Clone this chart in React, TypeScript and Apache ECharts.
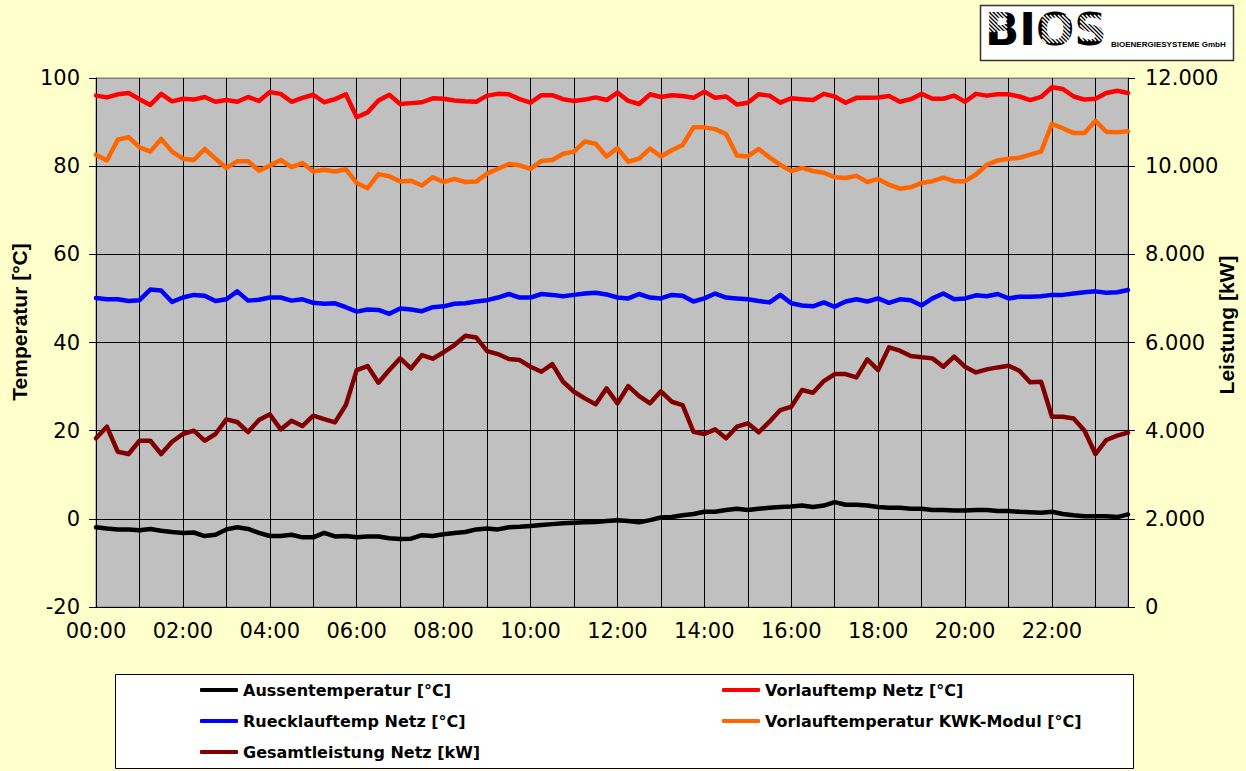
import React, { useEffect, useRef } from "react";
import * as echarts from "echarts";

// ---- Data (15-minute values, 00:00 .. 23:45) ----
const times: string[] = [];
for (let i = 0; i < 96; i++) {
  const h = Math.floor(i / 4);
  const m = (i % 4) * 15;
  times.push(`${String(h).padStart(2, "0")}:${String(m).padStart(2, "0")}`);
}

const aussentemperatur = [
  -1.9, -2.2, -2.4, -2.4, -2.6, -2.3, -2.7, -3.0, -3.2, -3.1, -3.9, -3.6, -2.4, -1.9, -2.3, -3.2,
  -3.9, -3.9, -3.6, -4.2, -4.2, -3.2, -4.0, -3.9, -4.2, -4.0, -4.0, -4.4, -4.6, -4.5, -3.7, -3.9,
  -3.5, -3.2, -3.0, -2.4, -2.2, -2.4, -1.9, -1.8, -1.6, -1.4, -1.2, -1.0, -0.9, -0.8, -0.7, -0.5,
  -0.3, -0.5, -0.8, -0.3, 0.3, 0.4, 0.8, 1.1, 1.6, 1.6, 2.0, 2.3, 2.0, 2.3, 2.5, 2.7,
  2.8, 3.0, 2.7, 3.0, 3.8, 3.2, 3.2, 3.0, 2.7, 2.5, 2.5, 2.3, 2.3, 2.0, 2.0, 1.9,
  1.9, 2.0, 2.0, 1.8, 1.8, 1.6, 1.5, 1.4, 1.6, 1.1, 0.8, 0.6, 0.6, 0.6, 0.4, 1.0,
];

const vorlauftempNetz = [
  96.0, 95.6, 96.3, 96.6, 95.2, 93.9, 96.4, 94.7, 95.3, 95.1, 95.7, 94.6, 95.0, 94.6, 95.7, 94.8,
  96.8, 96.4, 94.6, 95.5, 96.2, 94.5, 95.2, 96.3, 91.1, 92.2, 94.9, 96.2, 94.1, 94.3, 94.5, 95.4,
  95.3, 94.9, 94.7, 94.6, 96.0, 96.4, 96.3, 95.2, 94.4, 96.1, 96.1, 95.2, 94.8, 95.1, 95.6, 95.0,
  96.7, 94.8, 94.1, 96.3, 95.7, 96.1, 95.9, 95.5, 96.9, 95.5, 95.8, 94.0, 94.4, 96.3, 96.0, 94.4,
  95.4, 95.2, 95.0, 96.4, 95.8, 94.4, 95.5, 95.5, 95.6, 95.9, 94.6, 95.2, 96.4, 95.3, 95.3, 96.0,
  94.6, 96.4, 96.0, 96.3, 96.3, 95.8, 95.0, 95.7, 97.9, 97.5, 95.8, 95.1, 95.3, 96.6, 97.1, 96.6,
];

const ruecklauftempNetz = [
  50.1, 49.8, 49.8, 49.4, 49.6, 52.0, 51.8, 49.2, 50.2, 50.8, 50.6, 49.4, 49.8, 51.6, 49.5, 49.7,
  50.2, 50.2, 49.5, 49.8, 49.0, 48.8, 48.9, 48.0, 47.0, 47.5, 47.4, 46.5, 47.7, 47.5, 47.1, 48.0,
  48.2, 48.8, 48.9, 49.3, 49.6, 50.2, 51.0, 50.2, 50.2, 51.0, 50.8, 50.5, 50.8, 51.1, 51.3, 50.9,
  50.2, 50.0, 51.0, 50.2, 50.0, 50.8, 50.6, 49.3, 50.0, 51.1, 50.2, 50.0, 49.8, 49.4, 49.1, 50.8,
  48.9, 48.4, 48.2, 49.1, 48.1, 49.3, 49.8, 49.3, 50.0, 49.0, 49.8, 49.6, 48.4, 50.0, 51.1, 49.8,
  50.0, 50.7, 50.5, 51.0, 50.0, 50.4, 50.4, 50.5, 50.8, 50.8, 51.1, 51.4, 51.6, 51.3, 51.4, 51.9,
];

const vorlauftempKWK = [
  82.6, 81.3, 86.0, 86.6, 84.3, 83.3, 86.2, 83.3, 81.7, 81.4, 83.9, 81.7, 79.6, 81.1, 81.1, 79.0,
  80.1, 81.4, 79.8, 80.7, 78.8, 79.2, 78.8, 79.3, 76.2, 75.0, 78.2, 77.7, 76.5, 76.7, 75.6, 77.5,
  76.4, 77.1, 76.4, 76.5, 78.3, 79.4, 80.5, 80.2, 79.4, 81.2, 81.4, 82.8, 83.3, 85.6, 85.1, 82.2,
  84.1, 81.0, 81.7, 84.0, 82.2, 83.6, 84.8, 88.8, 88.8, 88.4, 87.3, 82.4, 82.2, 83.9, 82.0, 80.3,
  78.9, 79.6, 78.9, 78.5, 77.5, 77.3, 77.8, 76.4, 77.1, 75.8, 74.9, 75.2, 76.2, 76.6, 77.4, 76.6,
  76.6, 78.1, 80.3, 81.3, 81.7, 81.9, 82.6, 83.3, 89.6, 88.6, 87.5, 87.5, 90.3, 87.8, 87.7, 87.9,
];

const gesamtleistungNetz = [
  3826, 4090, 3523, 3470, 3772, 3772, 3470, 3749, 3924, 3999, 3772, 3924, 4256, 4196, 3969, 4240,
  4370, 4029, 4225, 4105, 4339, 4264, 4188, 4581, 5375, 5466, 5088, 5375, 5640, 5413, 5715, 5632,
  5780, 5942, 6153, 6115, 5806, 5738, 5625, 5602, 5450, 5337, 5511, 5110, 4883, 4733, 4597, 4960,
  4620, 5012, 4785, 4620, 4892, 4656, 4581, 3976, 3924, 4029, 3826, 4090, 4166, 3962, 4203, 4468,
  4543, 4922, 4861, 5126, 5284, 5284, 5209, 5617, 5375, 5889, 5814, 5693, 5663, 5640, 5450, 5678,
  5450, 5322, 5390, 5435, 5473, 5360, 5096, 5111, 4316, 4316, 4278, 3999, 3470, 3788, 3886, 3954,
];

const seriesNames = [
  "Aussentemperatur [°C]",
  "Vorlauftemp Netz [°C]",
  "Ruecklauftemp Netz [°C]",
  "Vorlauftemperatur KWK-Modul [°C]",
  "Gesamtleistung Netz [kW]",
];
const seriesColors = ["#000000", "#ff0000", "#0000ff", "#ff6600", "#800000"];

const fmtThousands = (v: number) => {
  if (v < 1000) return String(v);
  const k = Math.floor(v / 1000);
  const r = v % 1000;
  return `${k}.${String(r).padStart(3, "0")}`;
};

const TICK_FONT = "DejaVu Sans";

// decorative diagonal white stripes for the logo letters
function stripes(bx: number, by: number, bw: number, bh: number, step: number) {
  const out: any[] = [];
  for (let c = -bh; c <= bw; c += step) {
    const t0 = Math.max(0, -c);
    const t1 = Math.min(bh, bw - c);
    if (t1 - t0 < 2) continue;
    out.push({
      type: "line",
      shape: { x1: bx + c + t0, y1: by + t0, x2: bx + c + t1, y2: by + t1 },
      style: { stroke: "#ffffff", lineWidth: 1.6 },
      z: 10,
    });
  }
  return out;
}

export default function App() {
  const ref = useRef<HTMLDivElement>(null);

  useEffect(() => {
    if (!ref.current) return;
    const chart = echarts.init(ref.current, undefined, { renderer: "svg" });

    const legendText = {
      fontFamily: TICK_FONT,
      fontWeight: "bold" as const,
      fontSize: 16,
      color: "#000",
      lineHeight: 18,
    };
    const mkLegend = (name: string, left: number, centerY: number) => ({
      data: [name],
      left,
      top: centerY - 9,
      padding: 0,
      icon: "roundRect",
      itemWidth: 38,
      itemHeight: 4,
      itemGap: 0,
      selectedMode: false,
      textStyle: legendText,
    });

    const dataSets = [
      aussentemperatur,
      vorlauftempNetz,
      ruecklauftempNetz,
      vorlauftempKWK,
      gesamtleistungNetz,
    ];

    const yColors = ["#000", "#000", "#000", "#000", "#000", "#000", "#808080"];

    chart.setOption({
      animation: false,
      backgroundColor: "#ffffcc",
      grid: {
        left: 96,
        top: 78,
        right: 118,
        bottom: 164,
        show: true,
        backgroundColor: "#c0c0c0",
        borderColor: "#808080",
        borderWidth: 1,
      },
      legend: [
        mkLegend(seriesNames[0], 200, 690),
        mkLegend(seriesNames[2], 200, 721),
        mkLegend(seriesNames[4], 200, 752),
        mkLegend(seriesNames[1], 722, 690),
        mkLegend(seriesNames[3], 722, 721),
      ],
      xAxis: {
        type: "category",
        data: times,
        boundaryGap: false,
        axisLine: { show: true, lineStyle: { color: "#000", width: 1 } },
        axisTick: {
          show: true,
          length: 7,
          interval: (i: number) => i % 8 === 0,
          lineStyle: { color: "#000" },
        },
        axisLabel: {
          interval: (i: number) => i % 8 === 0,
          fontFamily: TICK_FONT,
          fontSize: 21,
          color: "#000",
          margin: 13,
        },
        splitLine: {
          show: true,
          interval: (i: number) => i % 4 === 0,
          lineStyle: { color: "#000", width: 1 },
        },
      },
      yAxis: [
        {
          type: "value",
          min: -20,
          max: 100,
          interval: 20,
          axisLine: { show: true, lineStyle: { color: "#000", width: 1 } },
          axisTick: { show: true, length: 7, lineStyle: { color: "#000" } },
          axisLabel: {
            fontFamily: TICK_FONT,
            fontSize: 21,
            color: "#000",
            margin: 16,
          },
          splitLine: { show: true, lineStyle: { color: yColors, width: 1 } },
        },
        {
          type: "value",
          min: 0,
          max: 12000,
          interval: 2000,
          position: "right",
          axisLine: { show: true, lineStyle: { color: "#000", width: 1 } },
          axisTick: { show: true, length: 7, lineStyle: { color: "#000" } },
          axisLabel: {
            fontFamily: TICK_FONT,
            fontSize: 21,
            color: "#000",
            margin: 17,
            formatter: (v: number) => fmtThousands(v),
          },
          splitLine: { show: false },
        },
      ],
      series: dataSets.map((d, idx) => ({
        name: seriesNames[idx],
        type: "line",
        yAxisIndex: idx === 4 ? 1 : 0,
        data: d,
        symbol: "none",
        showSymbol: false,
        color: seriesColors[idx],
        lineStyle: { color: seriesColors[idx], width: 4.5, join: "round", cap: "round" },
        itemStyle: { color: seriesColors[idx] },
        z: 3,
      })),
      graphic: [
        {
          type: "rect",
          shape: { x: 115.5, y: 674.5, width: 1018, height: 94 },
          style: { fill: "#ffffff", stroke: "#000000", lineWidth: 1 },
          z: 0,
        },
        {
          type: "text",
          x: 19,
          y: 322,
          rotation: Math.PI / 2,
          style: {
            text: "Temperatur [°C]",
            fontFamily: "Liberation Sans",
            fontWeight: "bold",
            fontSize: 21,
            fill: "#000",
            align: "center",
            verticalAlign: "middle",
            textAlign: "center",
            textVerticalAlign: "middle",
          },
        },
        {
          type: "text",
          x: 1226,
          y: 325,
          rotation: Math.PI / 2,
          style: {
            text: "Leistung [kW]",
            fontFamily: "Liberation Sans",
            fontWeight: "bold",
            fontSize: 21,
            fill: "#000",
            align: "center",
            verticalAlign: "middle",
            textAlign: "center",
            textVerticalAlign: "middle",
          },
        },
        {
          type: "group",
          x: 980,
          y: 5,
          children: [
            {
              type: "rect",
              shape: { x: 0.5, y: 0.5, width: 253, height: 55 },
              style: { fill: "#ffffff", stroke: "#333333", lineWidth: 1.5 },
              z: 5,
            },
            {
              type: "text",
              x: 5,
              y: 24,
              z: 6,
              style: {
                text: "BIOS",
                fontFamily: "DejaVu Sans",
                fontWeight: 900,
                fontSize: 45,
                fill: "#000",
                align: "left",
                verticalAlign: "middle",
                textAlign: "left",
                textVerticalAlign: "middle",
              },
            },
            ...stripes(7, 7, 20, 20, 4),
            ...stripes(62, 10, 28, 28, 4),
            ...stripes(100, 10, 24, 26, 4),
            {
              type: "text",
              x: 131,
              y: 39,
              z: 6,
              style: {
                text: "BIOENERGIESYSTEME GmbH",
                fontFamily: "Liberation Sans",
                fontWeight: "bold",
                fontSize: 8,
                fill: "#000",
                align: "left",
                verticalAlign: "middle",
                textAlign: "left",
                textVerticalAlign: "middle",
              },
            },
          ],
        },
      ],
    });

    return () => chart.dispose();
  }, []);

  return (
    <div
      style={{
        position: "fixed",
        left: 0,
        top: 0,
        width: 1246,
        height: 771,
        background: "#ffffcc",
      }}
    >
      <div ref={ref} style={{ width: 1246, height: 771 }} />
    </div>
  );
}
